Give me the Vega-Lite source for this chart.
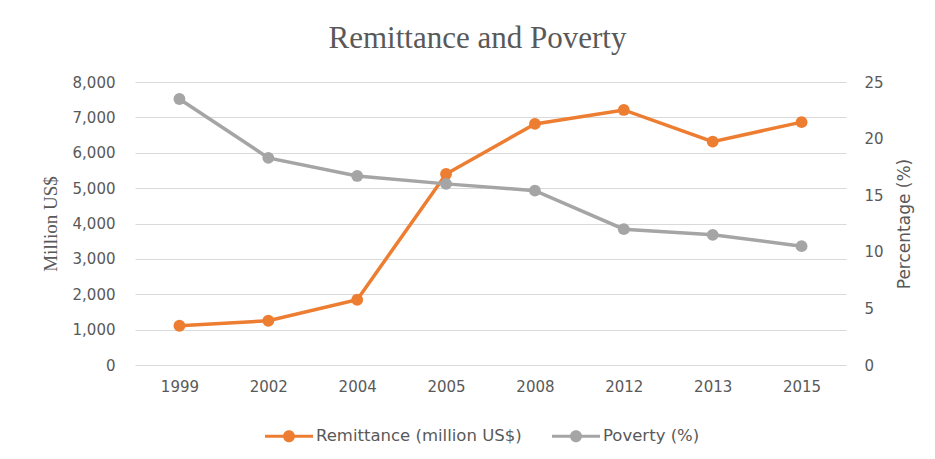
{
  "$schema": "https://vega.github.io/schema/vega-lite/v6.json",
  "autosize": "none",
  "width": 711,
  "height": 283,
  "padding": {"left": 135, "top": 82, "right": 89, "bottom": 94},
  "background": "white",
  "title": {
    "text": "Remittance and Poverty",
    "font": "Liberation Serif",
    "fontSize": 31,
    "fontWeight": "normal",
    "color": "#595959",
    "anchor": "middle",
    "dx": -13,
    "offset": 20
  },
  "data": {
    "values": [
      {"year": "1999", "series": "Remittance (million US$)", "value": 1110},
      {"year": "2002", "series": "Remittance (million US$)", "value": 1250},
      {"year": "2004", "series": "Remittance (million US$)", "value": 1845},
      {"year": "2005", "series": "Remittance (million US$)", "value": 5400},
      {"year": "2008", "series": "Remittance (million US$)", "value": 6815},
      {"year": "2012", "series": "Remittance (million US$)", "value": 7210},
      {"year": "2013", "series": "Remittance (million US$)", "value": 6315},
      {"year": "2015", "series": "Remittance (million US$)", "value": 6865},
      {"year": "1999", "series": "Poverty (%)", "value": 23.5},
      {"year": "2002", "series": "Poverty (%)", "value": 18.3},
      {"year": "2004", "series": "Poverty (%)", "value": 16.7},
      {"year": "2005", "series": "Poverty (%)", "value": 16.0},
      {"year": "2008", "series": "Poverty (%)", "value": 15.4},
      {"year": "2012", "series": "Poverty (%)", "value": 12.0},
      {"year": "2013", "series": "Poverty (%)", "value": 11.5},
      {"year": "2015", "series": "Poverty (%)", "value": 10.5}
    ]
  },
  "encoding": {
    "x": {
      "field": "year",
      "type": "ordinal",
      "scale": {"padding": 0.5},
      "axis": {
        "title": null,
        "labelAngle": 0,
        "domain": false,
        "ticks": false,
        "labelPadding": 14,
        "labelFont": "DejaVu Sans",
        "labelFontSize": 15,
        "labelColor": "#595959"
      }
    },
    "color": {
      "field": "series",
      "type": "nominal",
      "scale": {
        "domain": ["Remittance (million US$)", "Poverty (%)"],
        "range": ["#ED7D31", "#A5A5A5"]
      },
      "legend": {
        "title": null,
        "orient": "none",
        "direction": "horizontal",
        "legendX": 130,
        "legendY": 330,
        "symbolType": "M-1,-0.06H1V0.06H-1Z M0.25,0A0.25,0.25 0 1,1 -0.25,0A0.25,0.25 0 1,1 0.25,0Z",
        "symbolSize": 2304,
        "symbolStrokeWidth": 0,
        "labelFont": "DejaVu Sans",
        "labelFontSize": 16.5,
        "labelColor": "#595959",
        "labelLimit": 400,
        "labelOffset": 3,
        "columnPadding": 30
      }
    }
  },
  "layer": [
    {
      "transform": [{"filter": "datum.series === 'Remittance (million US$)'"}],
      "encoding": {
        "y": {
          "field": "value",
          "type": "quantitative",
          "scale": {"domain": [0, 8000], "nice": false},
          "axis": {
            "orient": "left",
            "title": "Million US$",
            "titleFont": "Liberation Serif",
            "titleFontSize": 19,
            "titleFontWeight": "normal",
            "titleColor": "#595959",
            "titlePadding": 12,
            "values": [0, 1000, 2000, 3000, 4000, 5000, 6000, 7000, 8000],
            "format": ",d",
            "domain": false,
            "ticks": false,
            "labelPadding": 20,
            "labelFont": "DejaVu Sans",
            "labelFontSize": 15,
            "labelColor": "#595959",
            "grid": true,
            "gridColor": "#D9D9D9",
            "gridWidth": 1
          }
        }
      },
      "layer": [
        {"mark": {"type": "line", "strokeWidth": 3.5}},
        {"mark": {"type": "point", "filled": true, "opacity": 1, "size": 140}}
      ]
    },
    {
      "transform": [{"filter": "datum.series === 'Poverty (%)'"}],
      "encoding": {
        "y": {
          "field": "value",
          "type": "quantitative",
          "scale": {"domain": [0, 25], "nice": false},
          "axis": {
            "orient": "right",
            "title": "Percentage (%)",
            "titleAngle": 270,
            "titleFont": "DejaVu Sans",
            "titleFontSize": 17,
            "titleFontWeight": "normal",
            "titleColor": "#595959",
            "titlePadding": 30,
            "values": [0, 5, 10, 15, 20, 25],
            "domain": false,
            "ticks": false,
            "labelPadding": 18,
            "labelFont": "DejaVu Sans",
            "labelFontSize": 15,
            "labelColor": "#595959",
            "grid": false
          }
        }
      },
      "layer": [
        {"mark": {"type": "line", "strokeWidth": 3.5}},
        {"mark": {"type": "point", "filled": true, "opacity": 1, "size": 140}}
      ]
    }
  ],
  "resolve": {"scale": {"y": "independent"}},
  "config": {
    "view": {"stroke": null},
    "axis": {"labelFontWeight": "normal"}
  }
}
